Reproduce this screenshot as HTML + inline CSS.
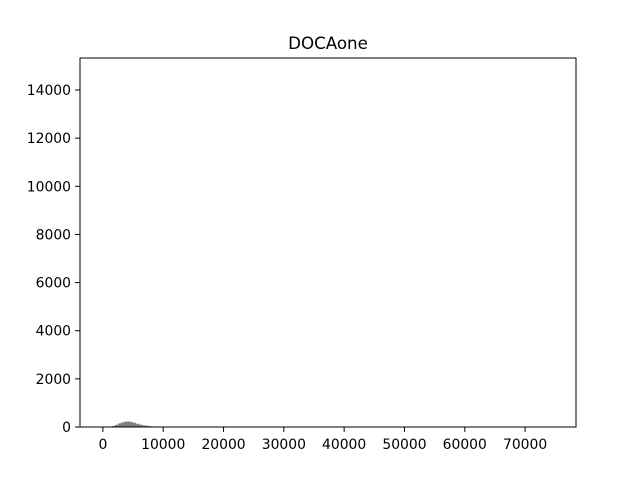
<!DOCTYPE html>
<html><head><meta charset="utf-8"><style>
body{margin:0;background:#fff;font-family:"Liberation Sans","DejaVu Sans",sans-serif;}
svg text{font-family:"DejaVu Sans","Liberation Sans",sans-serif;}
</style></head><body>
<svg id="chart" width="640" height="480">
<rect width="640" height="480" fill="#fff"/>
<text x="328" y="49" font-size="16.7" text-anchor="middle">DOCAone</text>
<g id="bars"></g>
<g id="xt"></g><g id="yt"></g>
<rect x="80" y="58" width="496" height="369" fill="none" stroke="#000" stroke-width="1"/>
</svg>
<script>
const binStarts=[1000,1500,2000,2500,3000,3500,4000,4500,5000,5500,6000,6500,7000,7500,8000,8500];
const counts=[15,45,90,150,190,220,230,210,175,135,100,75,55,40,25,15];
const binWidth=500;
const xTicks=[0,10000,20000,30000,40000,50000,60000,70000];
const yTicks=[0,2000,4000,6000,8000,10000,12000,14000];
const xMin=-3800,xMax=78440,yMin=0,yMax=15330;
const L=80,R=576,T=58,B=427;
const sx=v=>L+(v-xMin)/(xMax-xMin)*(R-L);
const sy=v=>B-(v-yMin)/(yMax-yMin)*(B-T);
const NS="http://www.w3.org/2000/svg";
const bars=document.getElementById('bars');
binStarts.forEach((b,i)=>{
 const r=document.createElementNS(NS,'rect');
 r.setAttribute('x',sx(b));r.setAttribute('width',sx(b+binWidth)-sx(b));
 r.setAttribute('y',sy(counts[i]));r.setAttribute('height',B-sy(counts[i]));
 r.setAttribute('fill','#808080');
 
 
 bars.appendChild(r);
});
const xt=document.getElementById('xt');
xTicks.forEach(v=>{
 const x=sx(v);
 const l=document.createElementNS(NS,'line');
 l.setAttribute('x1',x);l.setAttribute('x2',x);l.setAttribute('y1',B);l.setAttribute('y2',B+4.9);l.setAttribute('stroke','#000');l.setAttribute('stroke-width','1');
 
 
 xt.appendChild(l);
 const t=document.createElementNS(NS,'text');
 t.setAttribute('x',x);t.setAttribute('y',B+22);t.setAttribute('font-size','13.9');t.setAttribute('text-anchor','middle');
 t.textContent=v;
 
 
 xt.appendChild(t);
});
const yt=document.getElementById('yt');
yTicks.forEach(v=>{
 const y=sy(v);
 const l=document.createElementNS(NS,'line');
 l.setAttribute('x1',L-4.9);l.setAttribute('x2',L);l.setAttribute('y1',y);l.setAttribute('y2',y);l.setAttribute('stroke','#000');l.setAttribute('stroke-width','1');
 
 
 yt.appendChild(l);
 const t=document.createElementNS(NS,'text');
 t.setAttribute('x',L-9);t.setAttribute('y',y+5);t.setAttribute('font-size','13.9');t.setAttribute('text-anchor','end');
 t.textContent=v;
 
 
 yt.appendChild(t);
});
</script>
</body></html>
